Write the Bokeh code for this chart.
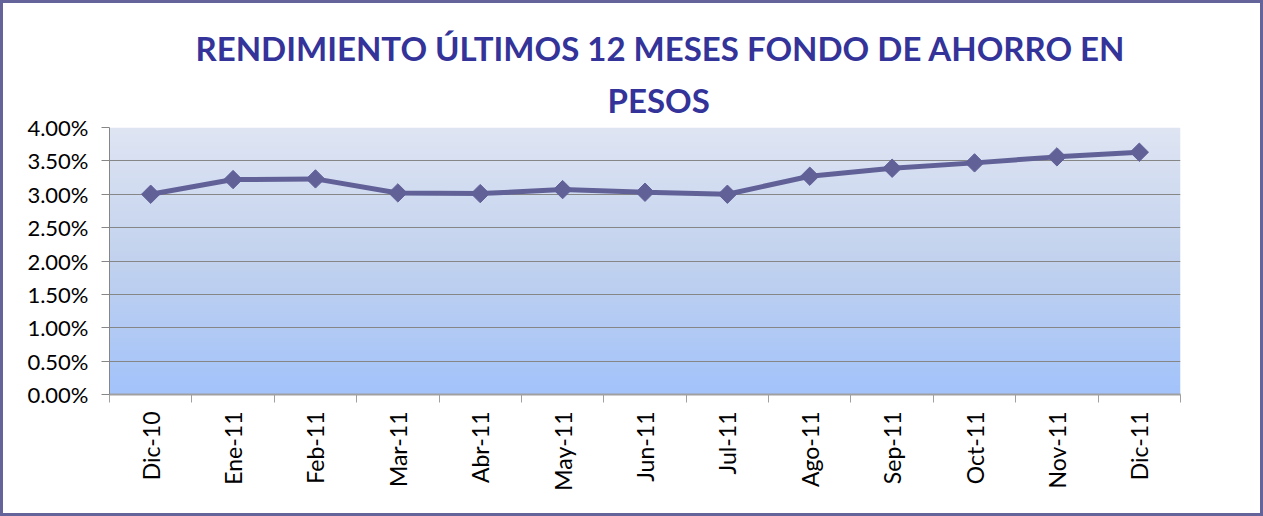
import numpy as np
from bokeh.plotting import figure
from bokeh.models import FixedTicker, NumeralTickFormatter, Title, Range1d
from bokeh.embed import file_html
from bokeh.resources import INLINE

# ---- data ----
months = ["Dic-10", "Ene-11", "Feb-11", "Mar-11", "Abr-11", "May-11", "Jun-11",
          "Jul-11", "Ago-11", "Sep-11", "Oct-11", "Nov-11", "Dic-11"]
rendimiento_pct = [3.00, 3.22, 3.23, 3.02, 3.01, 3.07, 3.03, 3.00, 3.27, 3.39, 3.47, 3.56, 3.63]
y_ticks_pct = [0.0, 0.5, 1.0, 1.5, 2.0, 2.5, 3.0, 3.5, 4.0]
title_lines = ["RENDIMIENTO ÚLTIMOS 12 MESES FONDO DE AHORRO EN", "PESOS"]

n = len(months)
xs = [i + 0.5 for i in range(n)]
ys = [v / 100.0 for v in rendimiento_pct]
ymax = y_ticks_pct[-1] / 100.0

W, H = 1263, 516
ML, MR, MT, MB = 106, 86, 124, 125

p = figure(width=W, height=H, output_backend="svg", toolbar_location=None,
           x_range=Range1d(0, n), y_range=Range1d(0, ymax),
           min_border_left=ML, min_border_right=MR, min_border_top=MT, min_border_bottom=MB,
           title=None)
p.outline_line_color = None
p.background_fill_color = "white"
p.border_fill_color = "white"
p.styles = {"border": "3px solid #64649a"}

# title lines (closest to the frame first), left-aligned with offsets to center them
title_offsets = [86, 498]
title_standoffs = [5, 15]
for txt, off, so in reversed(list(zip(title_lines, title_offsets, title_standoffs))):
    p.add_layout(Title(text=txt, align="left", offset=off,
                       text_font="Lato", text_font_style="bold", text_font_size="33px",
                       text_color="#333399", standoff=so), "above")

# gradient background of plot area
rows = 256
t = np.linspace(0, 1, rows)  # 0 bottom -> 1 top
stops_t = [0.0, 0.5, 1.0]
stops_c = [(163, 195, 251), (194, 210, 238), (223, 229, 243)]
img = np.zeros((rows, 1, 4), dtype=np.uint8)
for ch in range(3):
    img[:, 0, ch] = np.interp(t, stops_t, [c[ch] for c in stops_c]).astype(np.uint8)
img[:, 0, 3] = 255
p.image_rgba(image=[img.view(np.uint32).reshape(rows, 1)], x=0, y=0, dw=n, dh=ymax, level="image")

# grid
p.xgrid.grid_line_color = None
p.ygrid.ticker = FixedTicker(ticks=[v / 100.0 for v in y_ticks_pct])
p.ygrid.grid_line_color = "#868686"
p.ygrid.grid_line_width = 1

# y axis
p.yaxis.ticker = FixedTicker(ticks=[v / 100.0 for v in y_ticks_pct])
p.yaxis.formatter = NumeralTickFormatter(format="0.00%")
p.yaxis.axis_line_color = "#868686"
p.yaxis.major_tick_line_color = "#868686"
p.yaxis.major_tick_out = 8
p.yaxis.major_tick_in = 0
p.yaxis.minor_tick_line_color = None
p.yaxis.major_label_standoff = 13
p.yaxis.major_label_text_font = "Lato"
p.yaxis.major_label_text_font_size = "22px"
p.yaxis.major_label_text_color = "black"

# x axis
p.xaxis.ticker = FixedTicker(ticks=xs, minor_ticks=list(range(n + 1)))
p.xaxis.major_label_overrides = {x: m for x, m in zip(xs, months)}
p.xaxis.major_label_orientation = np.pi / 2
p.xaxis.axis_line_color = "#a0a0a0"
p.xaxis.axis_line_width = 2
p.xaxis.major_tick_line_color = None
p.xaxis.major_tick_out = 0
p.xaxis.major_tick_in = 0
p.xaxis.minor_tick_line_color = "#a0a0a0"
p.xaxis.minor_tick_out = 8
p.xaxis.minor_tick_in = 0
p.xaxis.major_label_standoff = 9
p.xaxis.major_label_text_font = "Lato"
p.xaxis.major_label_text_font_size = "23px"
p.xaxis.major_label_text_color = "black"

# series
line_color = "#616198"
p.line(xs, ys, line_color=line_color, line_width=5)
p.scatter(xs, ys, marker="square", angle=np.pi / 4, size=13,
          fill_color=line_color, line_color=line_color)

open("out.html", "w").write(file_html(p, INLINE))
